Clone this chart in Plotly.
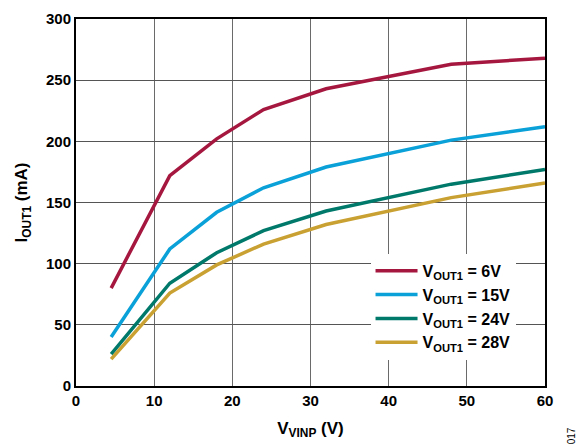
import plotly.graph_objects as go

vinp = [4.5, 12, 18, 24, 32, 48, 60]
i_6v = [80, 172, 202, 226, 243, 263, 268]
i_15v = [40, 112, 142, 162, 179, 201, 212]
i_24v = [26, 84, 109, 127, 143, 165, 177]
i_28v = [22, 76, 99, 116, 132, 154, 166]

names = ["V<sub>OUT1</sub> = 6V", "V<sub>OUT1</sub> = 15V", "V<sub>OUT1</sub> = 24V", "V<sub>OUT1</sub> = 28V"]
series = [i_6v, i_15v, i_24v, i_28v]
colors = ["#A6173F", "#0AA0D8", "#00796B", "#C9A032"]

FAM = "Liberation Sans, Arial"

fig = go.Figure()
for n, s, c in zip(names, series, colors):
    fig.add_trace(go.Scatter(x=vinp, y=s, mode="lines", name=n,
                             line=dict(color=c, width=3.5)))

fig.update_layout(
    width=582, height=446,
    margin=dict(l=76, r=37, t=10, b=60),
    plot_bgcolor="white", paper_bgcolor="white",
    font=dict(family=FAM, size=15, color="black"),
    showlegend=True,
    legend=dict(x=0.628, y=0.36, xanchor="left", yanchor="top",
                bgcolor="white", borderwidth=0,
                font=dict(family=FAM, size=16, color="black", weight="bold"),
                tracegroupgap=0, itemwidth=42),
    xaxis=dict(range=[0, 60], dtick=10, showgrid=True, gridcolor="#6a6a6a", gridwidth=1.3,
               showline=True, linecolor="black", linewidth=2, mirror=True,
               ticks="", zeroline=False,
               tickfont=dict(family=FAM, size=15, color="black", weight="bold"),
               title=dict(text="V<sub>VINP</sub> (V)", standoff=14,
                          font=dict(family=FAM, size=17, color="black", weight="bold"))),
    yaxis=dict(range=[0, 300], dtick=50, showgrid=True, gridcolor="#555555", gridwidth=1.3,
               showline=True, linecolor="black", linewidth=2, mirror=True,
               ticks="", zeroline=False,
               tickfont=dict(family=FAM, size=15, color="black", weight="bold"),
               title=dict(text="I<sub>OUT1</sub> (mA)", standoff=14,
                          font=dict(family=FAM, size=17, color="black", weight="bold"))),
)

fig.add_annotation(text="017", x=1.072, y=-0.165, xref="paper", yref="paper",
                   showarrow=False, textangle=-90,
                   font=dict(family=FAM, size=10, color="black"))

fig.write_html("out.html", config={"displayModeBar": False},
               post_script="document.body.style.margin='0';document.body.style.padding='0';")
